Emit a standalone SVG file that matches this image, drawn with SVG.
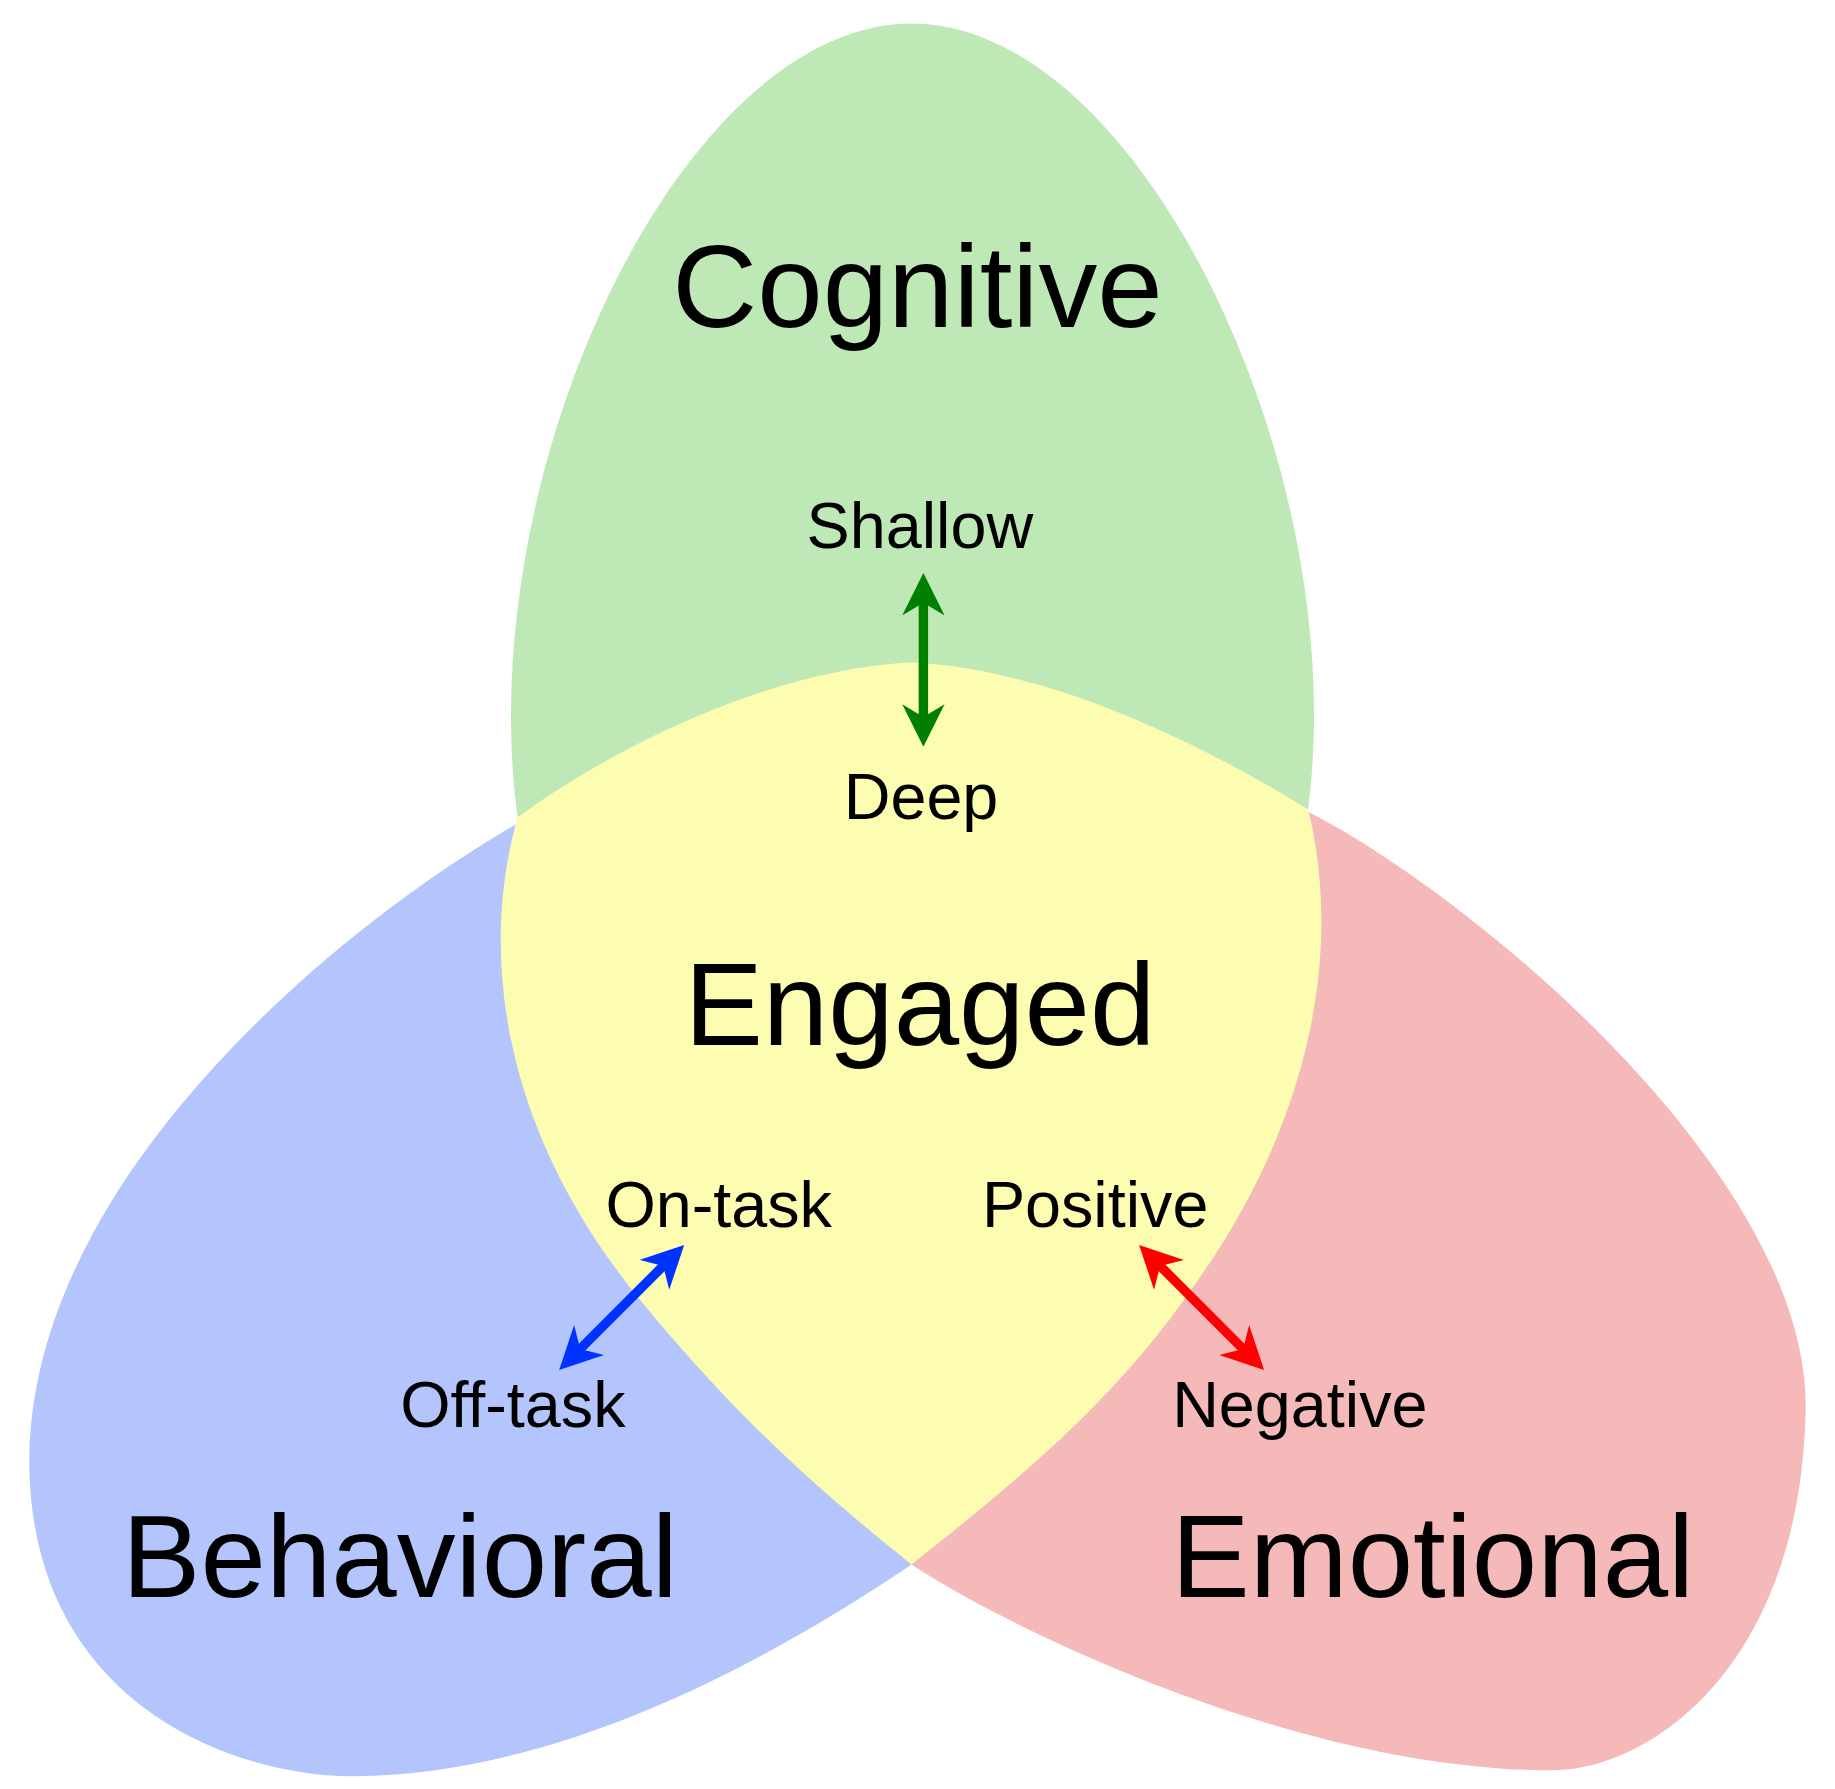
<svg xmlns="http://www.w3.org/2000/svg" width="1835" height="1789" viewBox="0 0 1835 1789">
<style>
text{font-family:"Liberation Sans",Arial,sans-serif;fill:#000;text-anchor:middle}
.big{font-size:100px}
.small{font-size:55px}
</style>
<defs>
<marker id="ag" viewBox="0 0 10 10" refX="7" refY="5" markerWidth="4.5" markerHeight="4.5" orient="auto-start-reverse"><path d="M0,0 L10,5 L0,10 L3,5 Z" fill="#008000"/></marker>
<marker id="ab" viewBox="0 0 10 10" refX="7" refY="5" markerWidth="4.5" markerHeight="4.5" orient="auto-start-reverse"><path d="M0,0 L10,5 L0,10 L3,5 Z" fill="#0033ff"/></marker>
<marker id="ar" viewBox="0 0 10 10" refX="7" refY="5" markerWidth="4.5" markerHeight="4.5" orient="auto-start-reverse"><path d="M0,0 L10,5 L0,10 L3,5 Z" fill="#ff0000"/></marker>
</defs>
<rect width="1835" height="1789" fill="#fff"/>
<g transform="scale(1.1763)">
<g id="cognitive"><path d="M440,695 C400,400 580,20 775,20 C970,20 1150,400 1112,688 C1000,640 900,600 775,600 C650,600 550,640 440,695 Z" fill="#bfe8b7"/></g>
<g id="behavioral"><path d="M440,700 C300,780 20,1000 25,1250 C30,1450 200,1510 300,1510 C500,1510 700,1380 775,1330 C600,1100 440,900 440,700 Z" fill="#b3c5fc"/></g>
<g id="emotional"><path d="M1112,690 C1250,760 1540,1000 1535,1200 C1530,1420 1400,1505 1320,1505 C1100,1505 850,1380 775,1330 C950,1100 1112,900 1112,690 Z" fill="#f4b9b8"/></g>
<g id="engaged"><path d="M775,563 C640,570 500,650 440,695 C410,800 420,950 540,1100 C630,1210 700,1270 775,1330 C850,1270 940,1200 1010,1100 C1120,950 1140,800 1112,688 C1050,650 910,570 775,563 Z" fill="#fdfdb1"/></g>
<g id="connectors" stroke-width="8" fill="none">
<line x1="785" y1="498" x2="785" y2="624" stroke="#008000" marker-start="url(#ag)" marker-end="url(#ag)"/>
<line x1="574" y1="1066" x2="483" y2="1157" stroke="#0033ff" marker-start="url(#ab)" marker-end="url(#ab)"/>
<line x1="976" y1="1066" x2="1067" y2="1157" stroke="#ff0000" marker-start="url(#ar)" marker-end="url(#ar)"/>
</g>
<g id="labels">
<text class="big" x="780" y="278">Cognitive</text>
<text class="big" x="782" y="888">Engaged</text>
<text class="big" x="340" y="1358">Behavioral</text>
<text class="big" x="1218" y="1358">Emotional</text>
<text class="small" x="782" y="466">Shallow</text>
<text class="small" x="783" y="696">Deep</text>
<text class="small" x="611" y="1043">On-task</text>
<text class="small" x="931" y="1043">Positive</text>
<text class="small" x="436" y="1213">Off-task</text>
<text class="small" x="1105" y="1213">Negative</text>
</g>
</g>
</svg>
